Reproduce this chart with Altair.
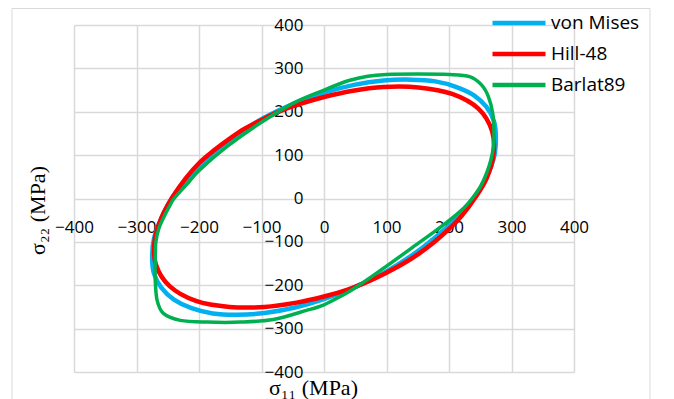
import altair as alt
import pandas as pd

series_names = ["von Mises", "Hill-48", "Barlat89"]
series_colors = ["#00B0F0", "#FF0000", "#00B050"]
tick_values = [-400, -300, -200, -100, 0, 100, 200, 300, 400]

# von Mises (clockwise from upper right)
vm_x = [240, 260, 272, 275, 272, 260, 240, 212, 178, 139, 95, 48, 0, -48, -95, -139, -178, -212,
        -240, -260, -272, -275, -272, -260, -242, -214, -180, -140, -96, -48, 0, 48, 95, 139, 178, 212]
vm_y = [238, 211, 178, 138, 95, 48, 2, -45, -90, -133, -172, -205, -232, -252, -264, -268, -265, -253,
        -233, -206, -173, -135, -92, -45, 4, 55, 102, 146, 186, 219, 244, 262, 272, 274, 270, 257]

# Hill-48
hill_x = [242, 260, 271, 269, 247, 205, 151, 95, 44, 0, -38, -71, -100, -127, -152, -176, -199, -221,
          -242, -260, -271, -269, -247, -205, -151, -95, -44, 0, 38, 71, 100, 127, 152, 176, 199, 221]
hill_y = [2, 46, 99, 155, 207, 241, 256, 257, 248, 234, 218, 201, 181, 161, 137, 111, 83, 47,
          4, -44, -97, -152, -202, -236, -250, -250, -240, -226, -210, -191, -171, -150, -127, -101, -72, -39]

# Barlat89
bar_x = [0, 40, 70, 100, 150, 200, 233, 252, 263, 270, 272, 271, 267, 260, 250, 237, 225, 205, 175, 150,
         100, 52, 26, 0, -28, -81, -134, -187, -230, -257, -267, -270, -270, -269, -264, -256, -248, -240,
         -220, -199, -156, -102, -49]
bar_y = [250, 272, 282, 286, 287, 286, 281, 262, 235, 196, 150, 119, 89, 58, 27, 0, -20, -45, -78, -104,
         -156, -204, -226, -245, -258, -279, -285, -285, -281, -265, -235, -188, -142, -100, -68, -42, -20, 0,
         32, 66, 119, 174, 220]

rows = []
for name, xs, ys in [("von Mises", vm_x, vm_y), ("Hill-48", hill_x, hill_y), ("Barlat89", bar_x, bar_y)]:
    for i, (a, b) in enumerate(zip(xs, ys)):
        rows.append({"series": name, "i": i, "s11": a, "s22": b})
df = pd.DataFrame(rows)

grid_color = "#D9D9D9"
label_font = "Open Sans"

x_enc = alt.X(
    "s11:Q",
    scale=alt.Scale(domain=[-400, 400], nice=False, zero=False),
    axis=alt.Axis(
        values=tick_values, grid=True, gridColor=grid_color, gridWidth=1.5,
        domain=False, ticks=False, labelPadding=21, labelFlush=False, labelOverlap=False,
        labelFont=label_font, labelFontSize=17, labelColor="#000000",
        offset=-173.5,
        title="σ₁₁ (MPa)", titleFont="Liberation Serif", titleFontSize=22,
        titleFontWeight="normal", titleColor="#000000",
        titleX=239, titleY=196, titleAlign="center", titleBaseline="alphabetic",
    ),
)
y_enc = alt.Y(
    "s22:Q",
    scale=alt.Scale(domain=[-400, 400], nice=False, zero=False),
    axis=alt.Axis(
        values=tick_values, grid=True, gridColor=grid_color, gridWidth=1.5,
        domain=False, ticks=False, labelPadding=21, labelFlush=False, labelOverlap=False,
        labelFont=label_font, labelFontSize=17, labelColor="#000000",
        offset=-250,
        title="σ₂₂ (MPa)", titleFont="Liberation Serif", titleFontSize=22,
        titleFontWeight="normal", titleColor="#000000",
        titleX=-280, titleY=185, titleAngle=270, titleAlign="center", titleBaseline="alphabetic",
    ),
)
color_enc = alt.Color(
    "series:N",
    scale=alt.Scale(domain=series_names, range=series_colors),
    legend=alt.Legend(
        orient="none", legendX=416, legendY=-11.5, title=None,
        symbolType="stroke", symbolSize=2809, symbolStrokeWidth=4.5,
        clipHeight=19, rowPadding=11, labelOffset=3, padding=0,
        labelFont=label_font, labelFontSize=19, labelColor="#000000", labelLimit=250,
    ),
)

frame = alt.Chart(alt.Data(values=[{"a": 1}])).mark_rect(
    filled=False, stroke=grid_color, strokeWidth=1
).encode(
    x=alt.value(-62), x2=alt.value(576), y=alt.value(-16.5), y2=alt.value(420)
)

layers = [frame]
for name, w in zip(series_names, [4.5, 4.5, 3.5]):
    layers.append(
        alt.Chart(df)
        .transform_filter(alt.datum.series == name)
        .mark_line(interpolate="cardinal-closed", strokeWidth=w, strokeJoin="round")
        .encode(x=x_enc, y=y_enc, color=color_enc, order=alt.Order("i:Q"))
    )

chart = alt.layer(*layers).properties(
    width=500,
    height=347,
    autosize=alt.AutoSizeParams(type="none"),
    padding={"left": 66, "top": 17, "right": 92, "bottom": 27},
).configure_view(strokeWidth=0)

chart.save("out.html", embed_options={"renderer": "svg", "actions": False})
